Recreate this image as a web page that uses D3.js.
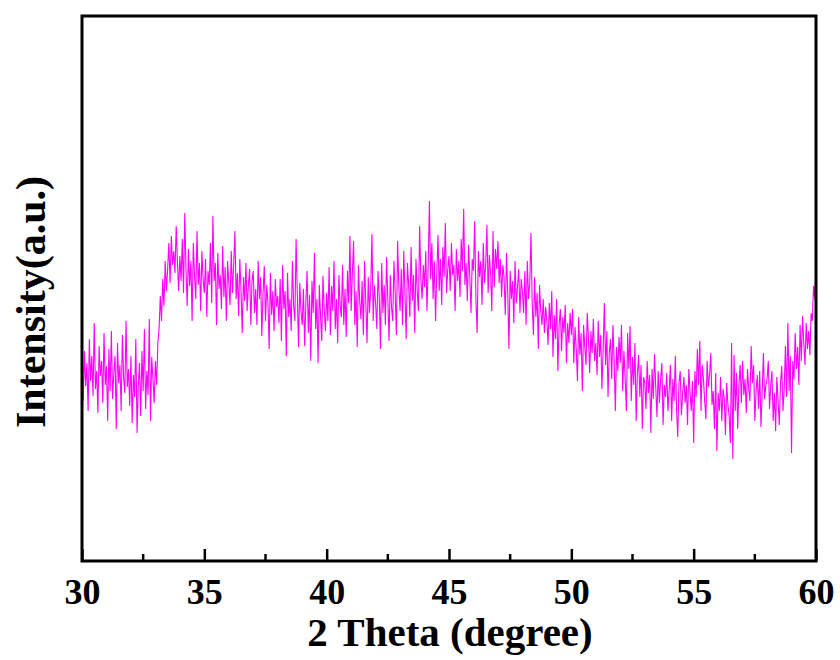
<!DOCTYPE html>
<html>
<head>
<meta charset="utf-8">
<script src="https://cdn.jsdelivr.net/npm/d3@7"></script>
<style>
  body { margin: 0; background: #fff; }
  svg { display: block; }
</style>
</head>
<body>
<div class="visContainer"></div>
<script>
// scan settings (2 theta, degree)
const thetaStart = 30;
const thetaStep = 0.05;
const majorTicks = [30, 35, 40, 45, 50, 55, 60];
const minorTicks = [32.5, 37.5, 42.5, 47.5, 52.5, 57.5];

// intensity (a.u.), one row per degree
const intensity = [
  185, 160, 210, 175, 198, 150, 222, 180, 205, 165, 238, 172, 190, 148, 215, 185, 200, 158, 228, 176,
  195, 140, 212, 170, 230, 162, 188, 205, 132, 218, 178, 196, 150, 226, 184, 168, 240, 174, 192, 155,
  205, 138, 186, 164, 222, 128, 176, 198, 145, 210, 170, 232, 152, 190, 166, 242, 140, 204, 182, 158,
  200, 176, 218, 232, 265, 240, 282, 255, 300, 270, 292, 318, 278, 325, 296, 310, 288, 335, 300, 270,
  305, 280, 322, 268, 348, 292, 255, 312, 275, 300, 240, 318, 285, 262, 330, 276, 298, 250, 310, 282,
  268, 302, 244, 290, 276, 318, 258, 345, 280, 298, 236, 308, 272, 286, 252, 315, 264, 294, 240, 300,
  278, 256, 310, 268, 296, 330, 262, 288, 245, 302, 270, 228, 284, 260, 298, 250, 276, 292, 236, 280,
  290, 248, 272, 236, 300, 262, 284, 225, 268, 295, 240, 276, 258, 212, 288, 246, 270, 230, 282, 254,
  265, 238, 282, 220, 296, 252, 270, 205, 288, 244, 262, 230, 300, 256, 240, 322, 268, 214, 278, 250,
  236, 272, 215, 258, 290, 228, 266, 200, 280, 248, 308, 232, 262, 198, 276, 244, 220, 285, 252, 230,
  268, 240, 294, 226, 275, 250, 300, 232, 262, 218, 286, 256, 244, 296, 236, 272, 224, 290, 258, 325,
  250, 288, 320, 236, 270, 214, 296, 260, 242, 280, 226, 300, 258, 218, 284, 248, 272, 327, 240, 276,
  258, 232, 290, 264, 212, 298, 248, 276, 236, 304, 262, 220, 286, 254, 240, 300, 268, 226, 320, 274,
  250, 292, 236, 310, 268, 222, 298, 276, 244, 314, 260, 286, 228, 302, 270, 250, 335, 282, 262, 296,
  274, 310, 250, 296, 360, 282, 318, 262, 300, 240, 288, 326, 270, 302, 256, 314, 284, 338, 268, 292,
  305, 270, 318, 286, 296, 250, 312, 280, 300, 264, 322, 290, 352, 276, 298, 260, 316, 284, 248, 302,
  290, 340, 262, 228, 310, 284, 300, 256, 318, 278, 296, 336, 268, 306, 288, 250, 330, 274, 312, 292,
  320, 278, 302, 264, 296, 284, 246, 308, 270, 212, 290, 262, 280, 238, 300, 258, 274, 292, 248, 282,
  270, 248, 290, 236, 300, 262, 278, 328, 258, 226, 284, 244, 268, 212, 276, 250, 236, 262, 228, 254,
  240, 216, 258, 232, 270, 204, 246, 222, 262, 190, 236, 252, 210, 244, 228, 256, 198, 238, 218, 248,
  226, 252, 198, 234, 212, 180, 244, 206, 228, 170, 236, 214, 196, 248, 222, 188, 230, 208, 242, 200,
  218, 186, 240, 204, 226, 172, 212, 258, 196, 230, 164, 208, 222, 182, 236, 200, 150, 214, 190, 224,
  198, 236, 170, 210, 182, 150, 228, 192, 235, 160, 204, 176, 218, 140, 188, 206, 164, 196, 132, 184,
  178, 152, 200, 168, 186, 128, 192, 162, 207, 174, 144, 190, 158, 182, 198, 136, 176, 164, 188, 150,
  172, 196, 140, 182, 160, 205, 152, 124, 178, 190, 146, 168, 184, 158, 176, 136, 192, 170, 150, 180,
  118, 190, 164, 212, 176, 220, 150, 196, 182, 160, 142, 200, 174, 186, 208, 156, 170, 132, 188, 110,
  168, 150, 184, 140, 172, 162, 126, 178, 156, 145, 118, 218, 102, 206, 150, 188, 132, 176, 196, 158,
  200, 166, 182, 148, 192, 172, 160, 215, 178, 196, 140, 170, 186, 152, 190, 134, 168, 208, 162, 176,
  182, 200, 152, 176, 190, 140, 168, 130, 184, 160, 136, 178, 195, 150, 172, 215, 164, 238, 170, 205,
  108, 200, 182, 228, 192, 214, 176, 236, 200, 245, 218, 196, 238, 212, 230, 206, 248, 240, 275, 262,
  295
];

const width = 840;
const height = 660;
const plotLeft = 82, plotRight = 816, plotTop = 16, plotBottom = 561;
const serif = '"Liberation Serif", "Times New Roman", serif';

const svg = d3.select('.visContainer')
              .append('svg')
              .attr('width', width)
              .attr('height', height);

const xScale = d3.scaleLinear().domain([30, 60]).range([plotLeft, plotRight]);
const yScale = d3.scaleLinear().domain([0, 545]).range([plotBottom, plotTop]);

const points = intensity.map((v, i) => [thetaStart + i * thetaStep, v]);

const line = d3.line()
               .x(d => xScale(d[0]))
               .y(d => yScale(d[1]));

svg.append('path')
   .datum(points)
   .attr('fill', 'none')
   .attr('stroke', '#ff00ff')
   .attr('stroke-width', 1.1)
   .attr('d', line);

// frame
svg.append('rect')
   .attr('x', plotLeft)
   .attr('y', plotTop)
   .attr('width', plotRight - plotLeft)
   .attr('height', plotBottom - plotTop)
   .attr('fill', 'none')
   .attr('stroke', '#000')
   .attr('stroke-width', 3);

// ticks point inward
const xAxis = d3.axisBottom(xScale)
                .tickValues(majorTicks)
                .tickSize(-12)
                .tickPadding(17)
                .tickFormat(d3.format('d'));

const gx = svg.append('g')
   .attr('transform', 'translate(0,' + plotBottom + ')')
   .call(xAxis);
gx.select('.domain').remove();
gx.selectAll('line').attr('stroke-width', 2.5);
gx.selectAll('text')
  .attr('font-family', serif)
  .attr('font-weight', 'bold')
  .attr('font-size', 36)
  .attr('fill', '#000');

svg.append('g')
   .selectAll('line')
   .data(minorTicks)
   .enter()
   .append('line')
   .attr('x1', d => xScale(d))
   .attr('x2', d => xScale(d))
   .attr('y1', plotBottom)
   .attr('y2', plotBottom - 7)
   .attr('stroke', '#000')
   .attr('stroke-width', 2.5);

svg.append('text')
   .attr('x', 450)
   .attr('y', 646)
   .attr('text-anchor', 'middle')
   .attr('font-family', serif)
   .attr('font-weight', 'bold')
   .attr('font-size', 41)
   .text('2 Theta (degree)');

svg.append('text')
   .attr('transform', 'translate(45,302) rotate(-90)')
   .attr('text-anchor', 'middle')
   .attr('font-family', serif)
   .attr('font-weight', 'bold')
   .attr('font-size', 42)
   .text('Intensity(a.u.)');
</script>
</body>
</html>
